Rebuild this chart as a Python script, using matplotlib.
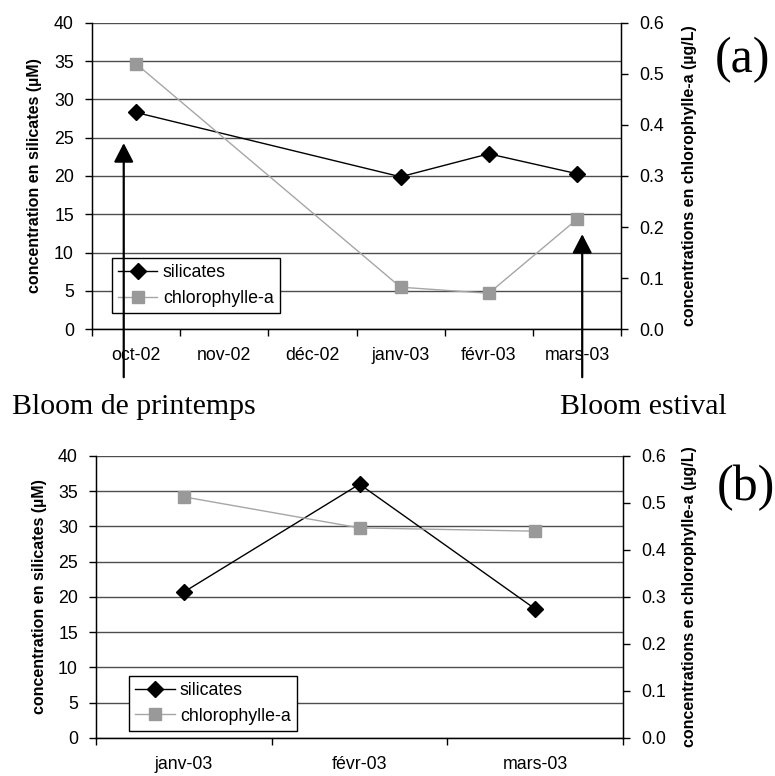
import matplotlib
matplotlib.use("Agg")
import matplotlib.pyplot as plt
from matplotlib.ticker import MultipleLocator, FixedLocator, NullFormatter

plt.rcParams['font.family'] = ['Liberation Sans', 'DejaVu Sans']

# ---- data, panel (a) ----
months_a = ['oct-02', 'nov-02', 'déc-02', 'janv-03', 'févr-03', 'mars-03']
idx_a = [0, 3, 4, 5]
silicates_a = [28.3, 19.9, 22.9, 20.3]
chloro_a = [0.52, 0.082, 0.070, 0.215]

# ---- data, panel (b) ----
months_b = ['janv-03', 'févr-03', 'mars-03']
idx_b = [0, 1, 2]
silicates_b = [20.7, 36.0, 18.3]
chloro_b = [0.513, 0.447, 0.440]

# arrows of panel (a): x in category units, tip / foot in silicate units
arrow_x = [-0.14, 5.06]
arrow_tip = [24.3, 12.4]
arrow_foot = -6.3

GRID = '#4d4d4d'
GREY = '#999999'
TICK_FS = 12.8
LAB_FS = 11.5


def panel(fig, rect, months, idx, sil, chl, legend_xy):
    ax = fig.add_axes(rect)
    n = len(months)
    ax.set_xlim(-0.5, n - 0.5)
    ax.set_ylim(0, 40)
    ax.yaxis.set_major_locator(MultipleLocator(5))
    ax.grid(axis='y', color=GRID, lw=1)
    ax.set_axisbelow(True)

    # ticks on category borders, labels in the middle
    ax.xaxis.set_major_locator(FixedLocator([i - 0.5 for i in range(n + 1)]))
    ax.xaxis.set_major_formatter(NullFormatter())
    ax.xaxis.set_minor_locator(FixedLocator(range(n)))
    ax.set_xticklabels(months, minor=True, fontsize=TICK_FS)
    ax.tick_params(axis='x', which='major', direction='out', length=5, width=1)
    ax.tick_params(axis='x', which='minor', length=0, pad=13)
    ax.tick_params(axis='y', direction='out', length=5, width=1, labelsize=TICK_FS, pad=8)

    ax.spines['top'].set_visible(False)
    for s in ['left', 'bottom', 'right']:
        ax.spines[s].set_color('black')
        ax.spines[s].set_linewidth(1)

    l1, = ax.plot(idx, sil, color='black', lw=1, marker='D', ms=8.5,
                  mfc='black', mec='black', label='silicates', zorder=3)
    ax.set_ylabel('concentration en silicates (µM)', fontsize=LAB_FS,
                  fontweight='bold')

    ax2 = ax.twinx()
    ax2.set_ylim(0, 0.6)
    ax2.yaxis.set_major_locator(MultipleLocator(0.1))
    ax2.yaxis.set_major_formatter(plt.FuncFormatter(lambda v, p: f'{v:.1f}'))
    ax2.tick_params(axis='y', direction='out', length=5, width=1, labelsize=TICK_FS, pad=8)
    ax2.spines['top'].set_visible(False)
    ax2.spines['right'].set_color('black')
    l2, = ax2.plot(idx, chl, color='#a6a6a6', lw=1, marker='s', ms=8.5,
                   mfc=GREY, mec=GREY, label='chlorophylle-a', zorder=3)
    ax2.set_ylabel('concentrations en chlorophylle-a (µg/L)', fontsize=LAB_FS,
                   fontweight='bold')

    leg = ax2.legend(handles=[l1, l2], loc='lower left', bbox_to_anchor=legend_xy,
                     borderaxespad=0, fontsize=TICK_FS, fancybox=False,
                     framealpha=1, edgecolor='black', handlelength=2.2,
                     handletextpad=0.3, borderpad=0.35, labelspacing=0.5)
    leg.get_frame().set_linewidth(1)
    return ax, ax2


fig = plt.figure(figsize=(7.75, 7.76), dpi=100)

axa, axa2 = panel(fig, [0.1187, 0.576, 0.6826, 0.3944], months_a, idx_a,
                  silicates_a, chloro_a, (0.038, 0.052))
axa.yaxis.set_label_coords(-0.095, 0.5)
axa2.yaxis.set_label_coords(1.115, 0.5)

for x, tip in zip(arrow_x, arrow_tip):
    axa2.annotate('', xy=(x, tip), xytext=(x, arrow_foot),
                  xycoords=axa.transData, textcoords=axa.transData,
                  annotation_clip=False, zorder=10,
                  arrowprops=dict(arrowstyle='-|>,head_length=0.58,head_width=0.3',
                                  mutation_scale=20, color='black', lw=1.6,
                                  shrinkA=0, shrinkB=0))

axb, axb2 = panel(fig, [0.1239, 0.049, 0.68, 0.3634], months_b, idx_b,
                  silicates_b, chloro_b, (0.063, 0.025))
axb.yaxis.set_label_coords(-0.093, 0.5)
axb2.yaxis.set_label_coords(1.112, 0.5)

serif = ['Liberation Serif', 'DejaVu Serif']
fig.text(0.0155, 0.4755, 'Bloom de printemps', family=serif, fontsize=21.5, va='center')
fig.text(0.7226, 0.4755, 'Bloom estival', family=serif, fontsize=21.5, va='center')
fig.text(0.9226, 0.9227, '(a)', family=serif, fontsize=36, va='center')
fig.text(0.925, 0.371, '(b)', family=serif, fontsize=36, va='center')

fig.savefig('out.png', dpi=100)
